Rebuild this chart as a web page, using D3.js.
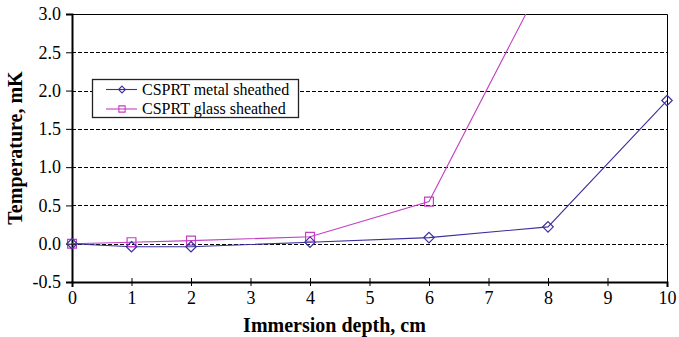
<!DOCTYPE html>
<html>
<head>
<meta charset="utf-8">
<script src="https://cdn.jsdelivr.net/npm/d3@7/dist/d3.min.js"></script>
<style>
  html, body { margin: 0; padding: 0; background: #fff; }
  svg text { font-family: "Liberation Serif", "Times New Roman", Times, serif; }
</style>
</head>
<body>
<svg id="chart" width="679" height="337"></svg>
<script>
// Immersion depth (cm) and temperature deviation (mK)
const depths = [0, 1, 2, 4, 6, 8, 10];
const metalSheathed = [0, -0.04, -0.04, 0.02, 0.08, 0.22, 1.87];
const glassSheathed = [0, 0.02, 0.04, 0.09, 0.55, 3.56];
const xTicks = [0, 1, 2, 3, 4, 5, 6, 7, 8, 9, 10];
const yTicks = [-0.5, 0.0, 0.5, 1.0, 1.5, 2.0, 2.5, 3.0];
const seriesNames = ["CSPRT metal sheathed", "CSPRT glass sheathed"];

const svg = d3.select("#chart");
const m = { left: 72, right: 12, top: 14, bottom: 55 };
const W = 679, H = 337;
const pw = W - m.left - m.right, ph = H - m.top - m.bottom;

const x = d3.scaleLinear().domain([0, 10]).range([m.left, m.left + pw]);
const y = d3.scaleLinear().domain([-0.5, 3.0]).range([m.top + ph, m.top]);

const metalColor = "#3b2f9c";
const glassColor = "#c43fc4";
const serif = "'Liberation Serif', 'Times New Roman', Times, serif";

// dashed gridlines
svg.append("g").selectAll("line")
  .data(yTicks.filter(v => v > -0.5 && v < 3.0))
  .join("line")
  .attr("x1", m.left).attr("x2", m.left + pw)
  .attr("y1", d => Math.round(y(d)) + 0.5).attr("y2", d => Math.round(y(d)) + 0.5)
  .attr("stroke", "#000").attr("stroke-width", 1)
  .attr("stroke-dasharray", "4,2");

// plot frame (top and right)
svg.append("path")
  .attr("d", `M${m.left},${m.top + 0.5}H${m.left + pw + 0.5}V${m.top + ph}`)
  .attr("fill", "none").attr("stroke", "#000").attr("stroke-width", 1);

// axes
const fmtY = d => d3.format(".1f")(d).replace("\u2212", "-");
const yAxis = d3.axisLeft(y).tickValues(yTicks).tickFormat(fmtY).tickSize(6).tickPadding(5);
const xAxis = d3.axisBottom(x).tickValues(xTicks).tickFormat(d3.format("d")).tickSize(5).tickPadding(4);

const gy = svg.append("g").attr("transform", `translate(${m.left},0)`).call(yAxis);
const gx = svg.append("g").attr("transform", `translate(0,${m.top + ph})`).call(xAxis);
[gx, gy].forEach(g => {
  g.attr("font-family", serif).attr("font-size", 18);
  g.select(".domain").attr("stroke", "#000").attr("stroke-width", 2);
  g.selectAll(".tick line").attr("stroke", "#000").attr("stroke-width", 1);
  g.selectAll(".tick text").attr("fill", "#000");
});
// x ticks cross the axis line
gx.selectAll(".tick line").attr("y1", -4).attr("y2", 4);

// clip series to plot area
svg.append("clipPath").attr("id", "plotClip")
  .append("rect").attr("x", m.left - 8).attr("y", m.top).attr("width", pw + 16).attr("height", ph);

const line = d3.line().x(d => x(d[0])).y(d => y(d[1]));
const metalPts = depths.map((d, i) => [d, metalSheathed[i]]);
const glassPts = glassSheathed.map((v, i) => [depths[i], v]);

const plot = svg.append("g").attr("clip-path", "url(#plotClip)");

plot.append("path").datum(glassPts).attr("d", line)
  .attr("fill", "none").attr("stroke", glassColor).attr("stroke-width", 1.1);
plot.append("path").datum(metalPts).attr("d", line)
  .attr("fill", "none").attr("stroke", metalColor).attr("stroke-width", 1.1);

const diamond = d3.symbol().type(d3.symbolDiamond2).size(70);
const square = d3.symbol().type(d3.symbolSquare2).size(100);

plot.selectAll(".gsq").data(glassPts).join("path")
  .attr("transform", d => `translate(${x(d[0])},${y(d[1])})`)
  .attr("d", square).attr("fill", "none").attr("stroke", glassColor).attr("stroke-width", 1.2);
plot.selectAll(".mdi").data(metalPts).join("path")
  .attr("transform", d => `translate(${x(d[0])},${y(d[1])})`)
  .attr("d", diamond).attr("fill", "none").attr("stroke", metalColor).attr("stroke-width", 1.2);

// legend
const lg = svg.append("g").attr("transform", "translate(92,79)");
lg.append("rect").attr("x", 0.5).attr("y", 0.5).attr("width", 206).attr("height", 38)
  .attr("fill", "#fff").attr("stroke", "#222").attr("stroke-width", 1.3);
const legendItems = [
  { name: seriesNames[0], color: metalColor, sym: d3.symbol().type(d3.symbolDiamond2).size(30) },
  { name: seriesNames[1], color: glassColor, sym: d3.symbol().type(d3.symbolSquare2).size(50) }
];
legendItems.forEach((it, i) => {
  const cy = 10.5 + i * 19.5;
  lg.append("line").attr("x1", 14).attr("x2", 45).attr("y1", cy).attr("y2", cy)
    .attr("stroke", it.color).attr("stroke-width", 1.1);
  lg.append("path").attr("transform", `translate(30,${cy})`).attr("d", it.sym)
    .attr("fill", "none").attr("stroke", it.color).attr("stroke-width", 1.1);
  lg.append("text").attr("x", 50).attr("y", cy + 5).text(it.name)
    .attr("font-family", serif).attr("font-size", 16).attr("fill", "#000");
});

// axis titles
svg.append("text").attr("x", m.left + pw / 2 - 35).attr("y", 332).attr("text-anchor", "middle")
  .attr("font-family", serif).attr("font-size", 20).attr("font-weight", "bold")
  .text("Immersion depth, cm");
svg.append("text").attr("transform", `translate(22,${m.top + ph / 2}) rotate(-90)`)
  .attr("text-anchor", "middle")
  .attr("font-family", serif).attr("font-size", 20).attr("font-weight", "bold")
  .text("Temperature, mK");
</script>
</body>
</html>
